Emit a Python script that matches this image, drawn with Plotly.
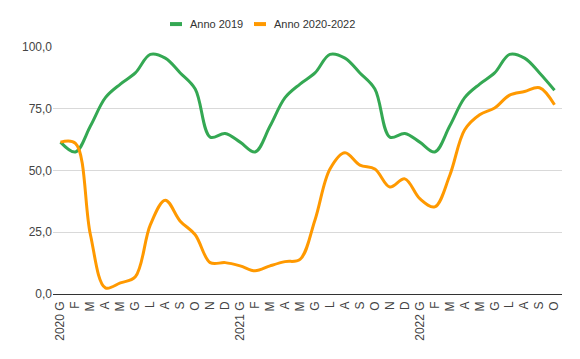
import plotly.graph_objects as go

month_labels = ["2020 G", "F", "M", "A", "M", "G", "L", "A", "S", "O", "N", "D",
                "2021 G", "F", "M", "A", "M", "G", "L", "A", "S", "O", "N", "D",
                "2022 G", "F", "M", "A", "M", "G", "L", "A", "S", "O"]

anno_2019 = [61.5, 57.5, 68, 79.5, 85, 89.5, 97, 95.5, 89.5, 83, 63.5, 65,
             61.5, 57.5, 68, 79.5, 85, 89.5, 97, 95.5, 89.5, 83, 63.5, 65,
             61.5, 57.5, 68, 79.5, 85, 89.5, 97, 95.5, 89.5, 82.5]

anno_2020_2022 = [61.5, 61, 24, 2.5, 4.5, 7, 28, 38, 29.5, 24, 12.7, 12.7,
                  11.4, 9.4, 11.4, 13.1, 14, 30, 50.6, 57.2, 52.2, 50.6, 43.3, 46.6,
                  38.6, 35.3, 48, 66.5, 72.6, 75.3, 80.5, 82, 83.5, 76.6]

series_names = ["Anno 2019", "Anno 2020-2022"]
series_colors = ["#34a853", "#ff9900"]

x_idx = list(range(len(month_labels)))

fig = go.Figure()
for name, vals, col in zip(series_names, [anno_2019, anno_2020_2022], series_colors):
    fig.add_trace(go.Scatter(
        x=x_idx, y=vals, name=name, mode="lines",
        line=dict(color=col, width=3, shape="spline", smoothing=1),
        showlegend=False, hoverinfo="x+y+name",
    ))

# manual legend (short thick swatches); pixel positions are window coordinates
PL, PW, PB, PH = 53, 509, 296.5, 250
def px2x(px):
    return (px - PL) / PW
def py2y(py):
    return (PB - py) / PH

legend_items = [(170, 182, 188, series_names[0], series_colors[0]),
                (254, 266, 272, series_names[1], series_colors[1])]
shapes = []
annotations = []
for x0, x1, tx, name, col in legend_items:
    shapes.append(dict(type="line", xref="paper", yref="paper",
                       x0=px2x(x0), x1=px2x(x1), y0=py2y(23.3), y1=py2y(23.3),
                       line=dict(color=col, width=4)))
    annotations.append(dict(xref="paper", yref="paper", x=px2x(tx), y=py2y(23.3),
                            xanchor="left", yanchor="middle", text=name, showarrow=False,
                            font=dict(family="Arial", size=11, color="#333333")))

# page body has an 8px margin, so the figure is shrunk by that amount
fig.update_layout(
    width=564, height=343,
    margin=dict(l=45, r=10, t=38.5, b=54.5),
    paper_bgcolor="white", plot_bgcolor="white",
    separators=",.",
    font=dict(family="Arial", size=12, color="#444444"),
    shapes=shapes, annotations=annotations,
    showlegend=False,
)
fig.update_xaxes(
    tickmode="array", tickvals=x_idx, ticktext=month_labels,
    tickangle=-90, range=[-0.5, len(month_labels) - 0.5],
    showgrid=False, zeroline=False, showline=False,
    ticks="", ticklabelstandoff=4, tickfont=dict(size=12, color="#444444"),
)
fig.update_yaxes(
    range=[0, 100], tickvals=[0, 25, 50, 75, 100], tickformat=".1f",
    showgrid=True, gridcolor="#d9d9d9", gridwidth=1,
    zeroline=True, zerolinecolor="#333333", zerolinewidth=1,
    showline=False, ticks="", tickfont=dict(size=12, color="#444444"),
)

fig.write_html("out.html")
